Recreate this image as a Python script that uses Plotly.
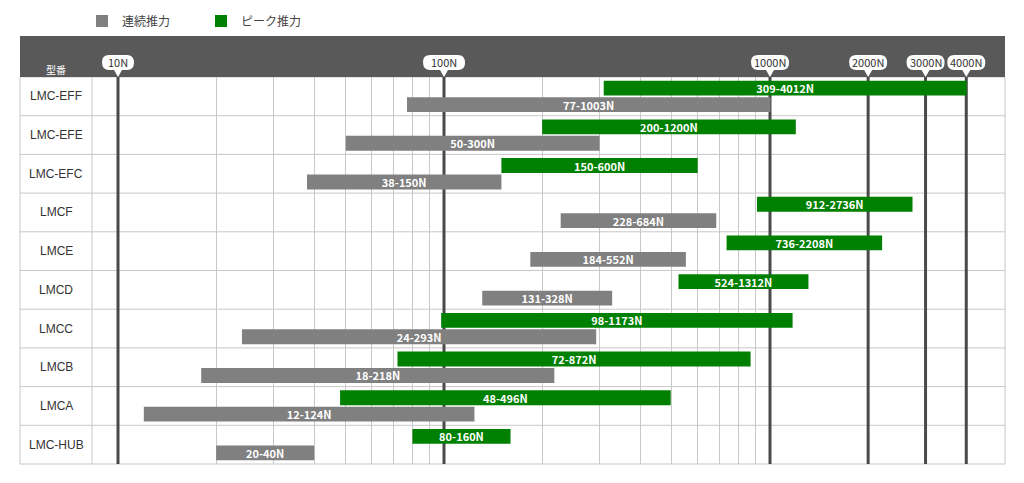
import math

import plotly.graph_objects as go

# ---------------------------------------------------------------------------
# Data
# ---------------------------------------------------------------------------
models = ["LMC-EFF", "LMC-EFE", "LMC-EFC", "LMCF", "LMCE",
          "LMCD", "LMCC", "LMCB", "LMCA", "LMC-HUB"]
cont_min = [77, 50, 38, 228, 184, 131, 24, 18, 12, 20]
cont_max = [1003, 300, 150, 684, 552, 328, 293, 218, 124, 40]
peak_min = [309, 200, 150, 912, 736, 524, 98, 72, 48, 80]
peak_max = [4012, 1200, 600, 2736, 2208, 1312, 1173, 872, 496, 160]

major_ticks = [10, 100, 1000, 2000, 3000, 4000]
major_labels = ["10N", "100N", "1000N", "2000N", "3000N", "4000N"]
minor_ticks = [20, 30, 40, 50, 60, 70, 80, 90,
               200, 300, 400, 500, 600, 700, 800, 900]

# ---------------------------------------------------------------------------
# Style
# ---------------------------------------------------------------------------
GRAY = "#808080"
GREEN = "#008000"
HEADER = "#595959"
THICK = "#4a4a4a"
GRID = "#c8c8c8"
JP_FONT = "Noto Sans CJK JP, Noto Sans, sans-serif"

W, H = 1024, 483
M = {"l": 92, "r": 19, "t": 77, "b": 19}
plot_w = W - M["l"] - M["r"]
plot_h = H - M["t"] - M["b"]
decade_px = 326
x_lo = 1 - 26 / decade_px
x_hi = x_lo + plot_w / decade_px
left_col = -72 / plot_w          # paper x of the outer table edge
header_top = 1 + 41 / plot_h     # paper y of the header band top

fig = go.Figure()
fig.add_trace(go.Bar(
    name="ピーク推力", y=models,
    x=[hi - lo for lo, hi in zip(peak_min, peak_max)], base=peak_min,
    orientation="h", marker={"color": GREEN, "line": {"width": 0}},
    text=[f"{lo}-{hi}N" for lo, hi in zip(peak_min, peak_max)],
    textposition="inside", insidetextanchor="middle", textangle=0,
    constraintext="none",
    textfont={"color": "white", "size": 11, "family": JP_FONT, "weight": 600},
    legendrank=2, hoverinfo="skip",
))
fig.add_trace(go.Bar(
    name="連続推力", y=models,
    x=[hi - lo for lo, hi in zip(cont_min, cont_max)], base=cont_min,
    orientation="h", marker={"color": GRAY, "line": {"width": 0}},
    text=[f"{lo}-{hi}N" for lo, hi in zip(cont_min, cont_max)],
    textposition="inside", insidetextanchor="middle", textangle=0,
    constraintext="none",
    textfont={"color": "white", "size": 11, "family": JP_FONT, "weight": 600},
    legendrank=1, hoverinfo="skip",
))

shapes = []
# header band
shapes.append({"type": "rect", "xref": "paper", "yref": "paper",
               "x0": left_col, "x1": 1, "y0": 1, "y1": header_top,
               "fillcolor": HEADER, "line": {"width": 0}, "layer": "above"})
# table frame and model column divider
shapes.append({"type": "rect", "xref": "paper", "yref": "paper",
               "x0": left_col, "x1": 1, "y0": 0, "y1": 1,
               "line": {"color": GRID, "width": 1}, "layer": "between"})
shapes.append({"type": "line", "xref": "paper", "yref": "paper",
               "x0": 0, "x1": 0, "y0": 0, "y1": 1,
               "line": {"color": GRID, "width": 1}, "layer": "between"})
# row separators
for i in range(len(models) - 1):
    shapes.append({"type": "line", "xref": "paper", "yref": "y",
                   "x0": left_col, "x1": 1, "y0": i + 0.5, "y1": i + 0.5,
                   "line": {"color": GRID, "width": 1}, "layer": "between"})
# thick decade lines and label bubbles
for v, lab in zip(major_ticks, major_labels):
    shapes.append({"type": "line", "xref": "x", "yref": "paper",
                   "x0": v, "x1": v, "y0": 0, "y1": 1,
                   "line": {"color": THICK, "width": 3}, "layer": "between"})
    hw = {3: 16, 4: 21}.get(len(lab), 19)
    r = 7
    path = (f"M0,0 L4,7 L{hw - r},7 Q{hw},7 {hw},{7 + r} "
            f"Q{hw},22 {hw - r},22 L{-hw + r},22 Q{-hw},22 {-hw},{22 - r} "
            f"Q{-hw},7 {-hw + r},7 L-4,7 Z")
    shapes.append({"type": "path", "xref": "x", "yref": "paper",
                   "xsizemode": "pixel", "ysizemode": "pixel",
                   "xanchor": v, "yanchor": 1, "path": path,
                   "fillcolor": "white", "line": {"width": 0},
                   "layer": "above"})

annotations = []
for v, lab in zip(major_ticks, major_labels):
    annotations.append({"x": math.log10(v), "xref": "x", "y": 1, "yref": "paper",
                        "yshift": 15, "text": lab, "showarrow": False,
                        "xanchor": "center", "yanchor": "middle",
                        "font": {"family": JP_FONT, "size": 11, "color": "#333"}})
for m in models:
    annotations.append({"x": left_col / 2, "xref": "paper", "y": m, "yref": "y",
                        "text": m, "showarrow": False,
                        "xanchor": "center", "yanchor": "middle",
                        "font": {"family": "Liberation Sans, Arial, sans-serif",
                                 "size": 12, "color": "#333"}})
annotations.append({"x": left_col / 2, "xref": "paper", "y": 1, "yref": "paper",
                    "yshift": 8, "text": "型番", "showarrow": False,
                    "xanchor": "center", "yanchor": "middle",
                    "font": {"family": JP_FONT, "size": 10, "color": "white"}})

fig.update_layout(
    width=W, height=H, margin=M,
    paper_bgcolor="white", plot_bgcolor="white",
    barmode="group", bargap=0.15, bargroupgap=0.1,
    showlegend=True,
    legend={"orientation": "h",
            "xref": "container", "x": 82 / W, "xanchor": "left",
            "yref": "container", "y": 1 - 21 / H, "yanchor": "middle",
            "font": {"family": JP_FONT, "size": 12, "color": "#444"},
            "entrywidth": 74, "entrywidthmode": "pixels",
            "bgcolor": "rgba(0,0,0,0)"},
    xaxis={"type": "log", "range": [x_lo, x_hi],
           "tickvals": minor_ticks, "showticklabels": False, "ticks": "",
           "showgrid": True, "gridcolor": GRID, "gridwidth": 1,
           "zeroline": False, "showline": False, "fixedrange": True},
    yaxis={"type": "category", "categoryarray": models,
           "range": [len(models) - 0.5, -0.5],
           "showticklabels": False, "ticks": "", "showgrid": False,
           "zeroline": False, "fixedrange": True},
    shapes=shapes, annotations=annotations,
)

fig.write_html("out.html", config={"displayModeBar": False},
               post_script="document.body.style.margin='0';")
